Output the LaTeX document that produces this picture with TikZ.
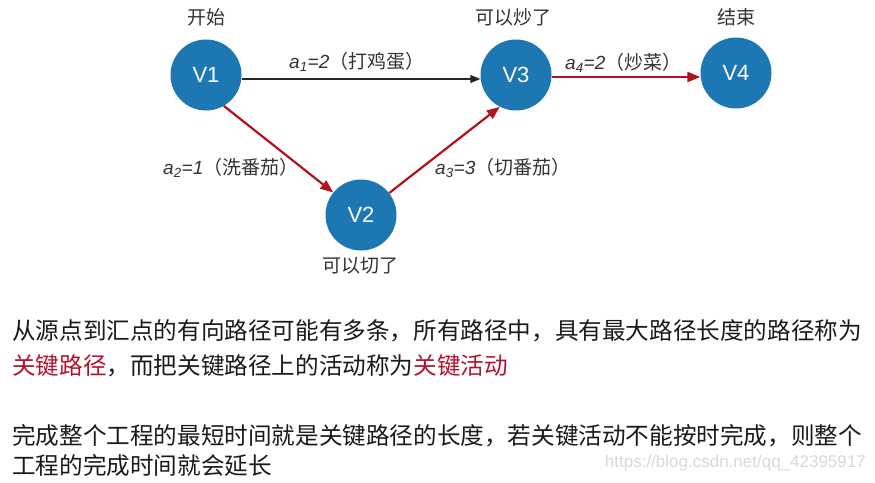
\documentclass[tikz,border=0pt]{standalone}
\usepackage{fontspec}
\setmainfont{Liberation Sans}
\newfontfamily\cjk{Noto Sans CJK SC}
\usetikzlibrary{arrows.meta}
\definecolor{vblue}{HTML}{1D77B3}
\definecolor{arrred}{HTML}{B0121F}
\definecolor{keyred}{HTML}{B5122E}
\definecolor{labgray}{HTML}{333333}
\definecolor{bodytext}{HTML}{1A1A1A}
\definecolor{wmgray}{HTML}{D9D9D9}
\begin{document}
\begin{tikzpicture}[x=1pt,y=-1pt,
  vertex/.style={circle,fill=vblue,minimum size=71pt,inner sep=0pt,text=white,font=\fontsize{22}{24}\selectfont},
  toplabel/.style={text=labgray,inner sep=0pt,font=\cjk\fontsize{19}{22}\selectfont},
  edgelabel/.style={text=labgray,inner sep=0pt,anchor=west,font=\fontsize{19}{22}\selectfont},
  bodyline/.style={text=bodytext,inner sep=0pt,anchor=west,font=\cjk\fontsize{23.6}{26}\selectfont},
  redarrow/.style={draw=arrred,line width=2.2pt,-{Triangle[length=13pt,width=10pt]}},
  blackarrow/.style={draw=black!85,line width=1.4pt,-{Triangle[length=10pt,width=8pt]}}
]
\useasboundingbox[fill=white] (0,0) rectangle (875,482);

\node[vertex] (V1) at (206,75) {V1};
\node[vertex] (V3) at (516,75) {V3};
\node[vertex] (V4) at (736,73) {V4};
\node[vertex] (V2) at (361,215) {V2};

\node[toplabel] (L1) at (206,17) {开始};
\node[toplabel] (L3) at (513,17) {可以炒了};
\node[toplabel] (L4) at (736,17) {结束};
\node[toplabel] (L2) at (360,266) {可以切了};

\draw[blackarrow] ([yshift=-4pt]V1.east) -- ([yshift=-4pt]V3.west);
\draw[redarrow] (V1.-60) -- (V2.141);
\draw[redarrow] (V2.38) -- (V3.-117);
\draw[redarrow] ([yshift=-2pt]V3.east) -- ([yshift=-4pt]V4.west);

\node[edgelabel] (E1) at (289,62) {{\itshape a\textsubscript{1}=2}{\cjk（打鸡蛋）}};
\node[edgelabel] (E4) at (565,63) {{\itshape a\textsubscript{4}=2}{\cjk（炒菜）}};
\node[edgelabel] (E2) at (163,168) {{\itshape a\textsubscript{2}=1}{\cjk（洗番茄）}};
\node[edgelabel] (E3) at (435,168) {{\itshape a\textsubscript{3}=3}{\cjk（切番茄）}};

\node[bodyline] (T1) at (12,331) {从源点到汇点的有向路径可能有多条，所有路径中，具有最大路径长度的路径称为};
\node[bodyline] (T2) at (12,366) {{\color{keyred}关键路径}，而把关键路径上的活动称为{\color{keyred}关键活动}};
\node[bodyline] (T3) at (12,436) {完成整个工程的最短时间就是关键路径的长度，若关键活动不能按时完成，则整个};
\node[bodyline] (T4) at (12,466) {工程的完成时间就会延长};

\node[text=wmgray,inner sep=0pt,anchor=east,font=\fontsize{17}{20}\selectfont] (W) at (866,463) {https://blog.csdn.net/qq\_42395917};
\end{tikzpicture}
\end{document}
